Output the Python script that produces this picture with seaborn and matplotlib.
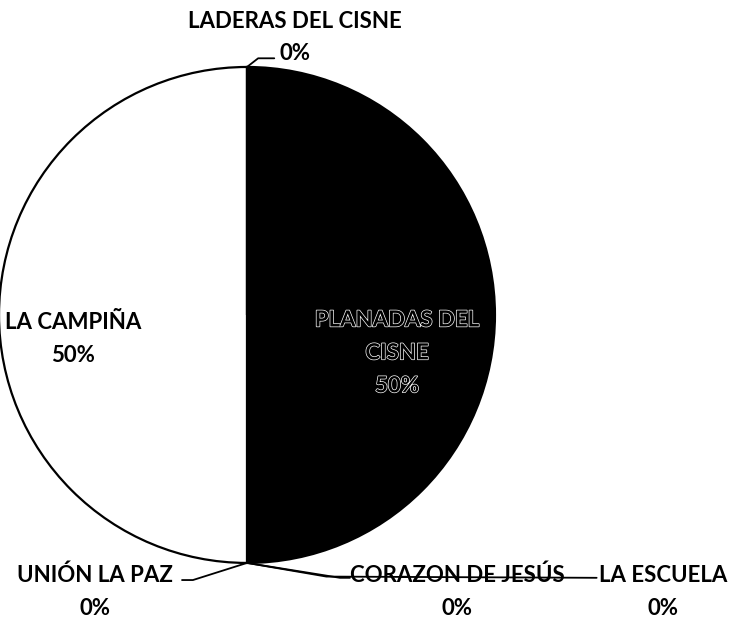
"""
Pie chart of households by zone (recreation).
"""

import matplotlib
matplotlib.use("Agg")
import matplotlib.pyplot as plt
import matplotlib.patheffects as pe
import numpy as np
import seaborn as sns


# Data
zonas = [
    "PLANADAS DEL\nCISNE",
    "CORAZON DE JESÚS",
    "LA ESCUELA",
    "UNIÓN LA PAZ",
    "LA CAMPIÑA",
    "LADERAS DEL CISNE",
]
porcentajes = [50, 0, 0, 0, 50, 0]
colores = ["black", "white", "white", "white", "white", "white"]

# label block centres (data units, pie radius = 1)
pos_etiquetas = [
    (0.605, -0.153),
    (0.847, -1.117),
    (1.677, -1.117),
    (-0.613, -1.117),
    (-0.702, -0.097),
    (0.194, 1.119),
]
# leader line: elbow and end near the label, None = label inside pie
guias = [
    None,
    [(0.375, -1.06), (0.415, -1.06)],
    [(0.32, -1.055), (1.41, -1.06)],
    [(-0.218, -1.069), (-0.262, -1.069)],
    None,
    [(0.045, 1.035), (0.11, 1.035)],
]


def plot_pie():

    sns.set_theme(style="white")
    plt.rcParams["font.family"] = ["Lato", "DejaVu Sans"]

    fig = plt.figure(figsize=(7.36, 6.19), dpi=100)
    ax = fig.add_axes([0, 0, 1, 1])

    wedges, _ = ax.pie(
        porcentajes,
        colors=colores,
        startangle=90,
        counterclock=False,
        radius=1,
        wedgeprops=dict(edgecolor="black", linewidth=1.6),
    )

    for w, nombre, valor, pos, guia in zip(
        wedges, zonas, porcentajes, pos_etiquetas, guias
    ):
        ang = np.deg2rad((w.theta1 + w.theta2) / 2)
        ancla = (np.cos(ang), np.sin(ang))
        texto = f"{nombre}\n{valor}%"

        if guia is not None:
            xs = [ancla[0]] + [p[0] for p in guia]
            ys = [ancla[1]] + [p[1] for p in guia]
            ax.plot(xs, ys, color="black", lw=1.3, zorder=1)

        efectos = None
        if w.get_facecolor()[0] < 0.5:
            efectos = [pe.withStroke(linewidth=1.0, foreground="white")]

        ax.text(
            pos[0], pos[1], texto,
            ha="center", va="center",
            fontsize=16, fontweight="bold",
            color="black", linespacing=1.7,
            path_effects=efectos, zorder=5,
        )

    ax.set_xlim(-0.996, 1.972)
    ax.set_ylim(-1.226, 1.27)
    ax.axis("off")

    fig.savefig("out.png", dpi=100, facecolor="white")
    plt.close(fig)


if __name__ == "__main__":

    plot_pie()
